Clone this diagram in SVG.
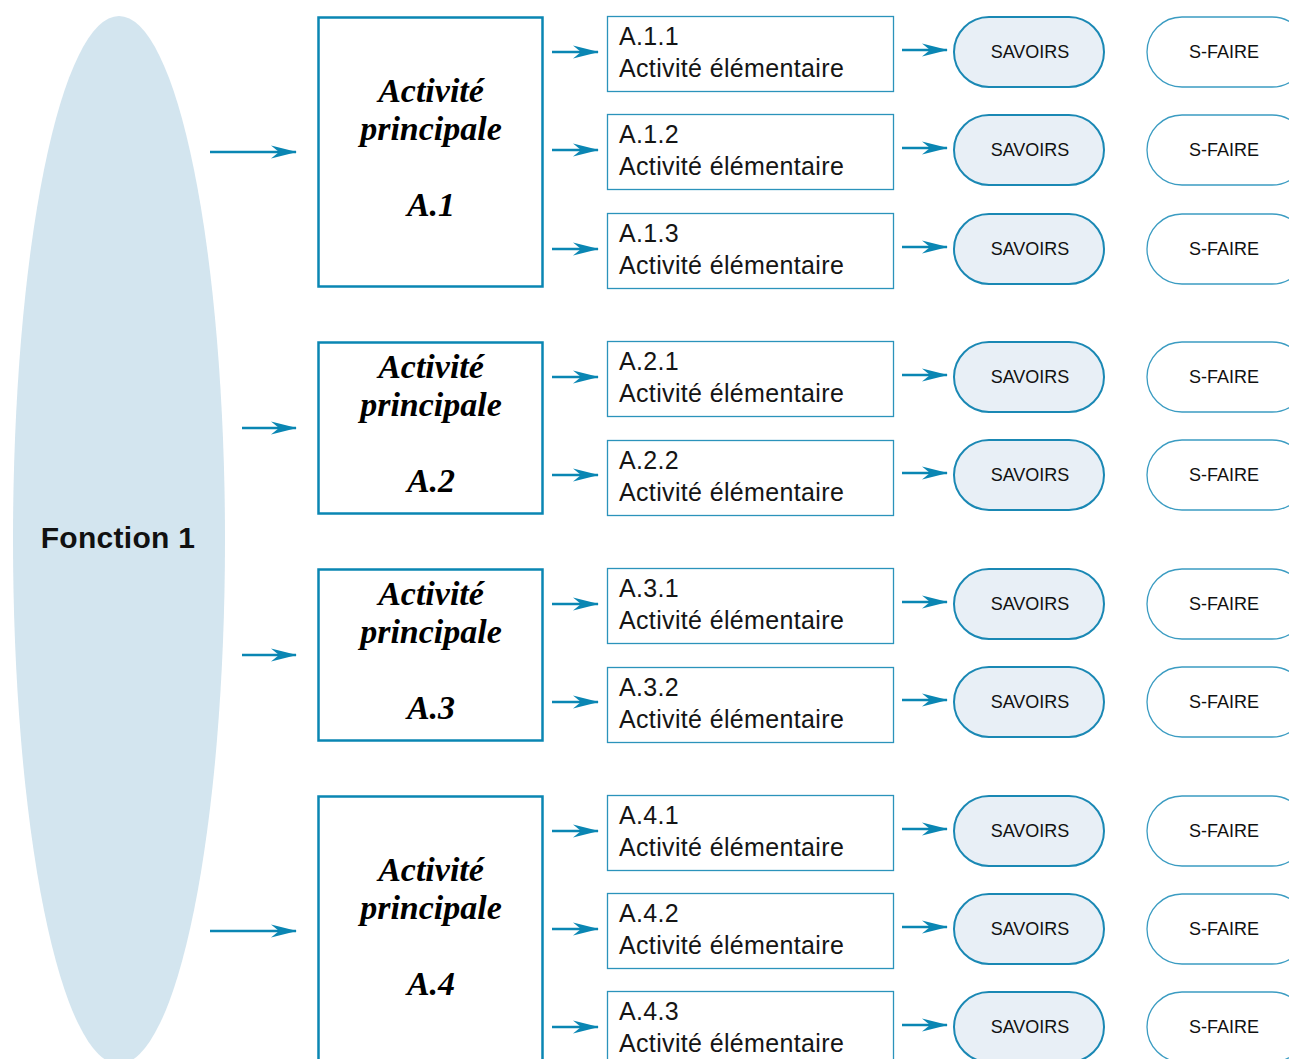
<svg xmlns="http://www.w3.org/2000/svg" width="1289" height="1059" viewBox="0 0 1289 1059">
<defs>
<style>
.pbox{fill:#fff;stroke:#0a86b3;stroke-width:2.5}
.ebox{fill:#fff;stroke:#2b93bb;stroke-width:1.3}
.sav{fill:#e8eff6;stroke:#1a88b4;stroke-width:2}
.sf{fill:#fff;stroke:#3b9cc2;stroke-width:1.3}
.pt{font-family:"Liberation Serif",serif;font-weight:bold;font-style:italic;font-size:34px;fill:#000;text-anchor:middle}
.et{font-family:"Liberation Sans",Arial,sans-serif;font-size:25px;letter-spacing:0.35px;fill:#151515}
.st{font-family:"Liberation Sans",Arial,sans-serif;font-size:18px;fill:#111;text-anchor:middle}
.ft{font-family:"Liberation Sans",Arial,sans-serif;font-weight:bold;font-size:30px;letter-spacing:0.3px;fill:#111;text-anchor:middle}
.arr{stroke:#0a86b3;stroke-width:2.5;fill:none;marker-end:url(#ah)}
</style>
<marker id="ah" viewBox="0 0 26 14" refX="25" refY="7" markerWidth="26" markerHeight="14" markerUnits="userSpaceOnUse" orient="auto">
<path d="M0,0.5 L26,7 L0,13.5 L8,7 z" fill="#0a86b3"/>
</marker>
</defs>

<g id="fonction1">
<ellipse cx="119" cy="540" rx="106" ry="524" fill="#d3e5ef"/>
<text class="ft" x="118" y="548">Fonction 1</text>
</g>

<g id="connectors">
<line class="arr" x1="210" y1="152" x2="296" y2="152"/>
<line class="arr" x1="242" y1="428" x2="296" y2="428"/>
<line class="arr" x1="242" y1="655" x2="296" y2="655"/>
<line class="arr" x1="210" y1="931" x2="296" y2="931"/>

<line class="arr" x1="552" y1="52" x2="598" y2="52"/>
<line class="arr" x1="552" y1="150" x2="598" y2="150"/>
<line class="arr" x1="552" y1="249" x2="598" y2="249"/>
<line class="arr" x1="552" y1="377" x2="598" y2="377"/>
<line class="arr" x1="552" y1="475" x2="598" y2="475"/>
<line class="arr" x1="552" y1="604" x2="598" y2="604"/>
<line class="arr" x1="552" y1="702" x2="598" y2="702"/>
<line class="arr" x1="552" y1="831" x2="598" y2="831"/>
<line class="arr" x1="552" y1="929" x2="598" y2="929"/>
<line class="arr" x1="552" y1="1027" x2="598" y2="1027"/>

<line class="arr" x1="902" y1="50" x2="947" y2="50"/>
<line class="arr" x1="902" y1="148" x2="947" y2="148"/>
<line class="arr" x1="902" y1="247" x2="947" y2="247"/>
<line class="arr" x1="902" y1="375" x2="947" y2="375"/>
<line class="arr" x1="902" y1="473" x2="947" y2="473"/>
<line class="arr" x1="902" y1="602" x2="947" y2="602"/>
<line class="arr" x1="902" y1="700" x2="947" y2="700"/>
<line class="arr" x1="902" y1="829" x2="947" y2="829"/>
<line class="arr" x1="902" y1="927" x2="947" y2="927"/>
<line class="arr" x1="902" y1="1025" x2="947" y2="1025"/>
</g>

<g id="A1">
<rect class="pbox" x="318.5" y="17.5" width="224" height="269"/>
<text class="pt" x="431" y="102">Activité</text>
<text class="pt" x="431" y="140">principale</text>
<text class="pt" x="431" y="216">A.1</text>
</g>
<g id="A2">
<rect class="pbox" x="318.5" y="342.5" width="224" height="171"/>
<text class="pt" x="431" y="378">Activité</text>
<text class="pt" x="431" y="416">principale</text>
<text class="pt" x="431" y="492">A.2</text>
</g>
<g id="A3">
<rect class="pbox" x="318.5" y="569.5" width="224" height="171"/>
<text class="pt" x="431" y="605">Activité</text>
<text class="pt" x="431" y="643">principale</text>
<text class="pt" x="431" y="719">A.3</text>
</g>
<g id="A4">
<rect class="pbox" x="318.5" y="796.5" width="224" height="280"/>
<text class="pt" x="431" y="881">Activité</text>
<text class="pt" x="431" y="919">principale</text>
<text class="pt" x="431" y="995">A.4</text>
</g>

<g id="A11"><rect class="ebox" x="607.5" y="16.5" width="286" height="75"/><text class="et" x="619" y="45">A.1.1</text><text class="et" x="619" y="77">Activité élémentaire</text></g>
<g id="A12"><rect class="ebox" x="607.5" y="114.5" width="286" height="75"/><text class="et" x="619" y="143">A.1.2</text><text class="et" x="619" y="175">Activité élémentaire</text></g>
<g id="A13"><rect class="ebox" x="607.5" y="213.5" width="286" height="75"/><text class="et" x="619" y="242">A.1.3</text><text class="et" x="619" y="274">Activité élémentaire</text></g>
<g id="A21"><rect class="ebox" x="607.5" y="341.5" width="286" height="75"/><text class="et" x="619" y="370">A.2.1</text><text class="et" x="619" y="402">Activité élémentaire</text></g>
<g id="A22"><rect class="ebox" x="607.5" y="440.5" width="286" height="75"/><text class="et" x="619" y="469">A.2.2</text><text class="et" x="619" y="501">Activité élémentaire</text></g>
<g id="A31"><rect class="ebox" x="607.5" y="568.5" width="286" height="75"/><text class="et" x="619" y="597">A.3.1</text><text class="et" x="619" y="629">Activité élémentaire</text></g>
<g id="A32"><rect class="ebox" x="607.5" y="667.5" width="286" height="75"/><text class="et" x="619" y="696">A.3.2</text><text class="et" x="619" y="728">Activité élémentaire</text></g>
<g id="A41"><rect class="ebox" x="607.5" y="795.5" width="286" height="75"/><text class="et" x="619" y="824">A.4.1</text><text class="et" x="619" y="856">Activité élémentaire</text></g>
<g id="A42"><rect class="ebox" x="607.5" y="893.5" width="286" height="75"/><text class="et" x="619" y="922">A.4.2</text><text class="et" x="619" y="954">Activité élémentaire</text></g>
<g id="A43"><rect class="ebox" x="607.5" y="991.5" width="286" height="75"/><text class="et" x="619" y="1020">A.4.3</text><text class="et" x="619" y="1052">Activité élémentaire</text></g>

<g id="S11"><rect class="sav" x="954" y="17" width="150" height="70" rx="35"/><text class="st" x="1030" y="58">SAVOIRS</text></g>
<g id="S12"><rect class="sav" x="954" y="115" width="150" height="70" rx="35"/><text class="st" x="1030" y="156">SAVOIRS</text></g>
<g id="S13"><rect class="sav" x="954" y="214" width="150" height="70" rx="35"/><text class="st" x="1030" y="255">SAVOIRS</text></g>
<g id="S21"><rect class="sav" x="954" y="342" width="150" height="70" rx="35"/><text class="st" x="1030" y="383">SAVOIRS</text></g>
<g id="S22"><rect class="sav" x="954" y="440" width="150" height="70" rx="35"/><text class="st" x="1030" y="481">SAVOIRS</text></g>
<g id="S31"><rect class="sav" x="954" y="569" width="150" height="70" rx="35"/><text class="st" x="1030" y="610">SAVOIRS</text></g>
<g id="S32"><rect class="sav" x="954" y="667" width="150" height="70" rx="35"/><text class="st" x="1030" y="708">SAVOIRS</text></g>
<g id="S41"><rect class="sav" x="954" y="796" width="150" height="70" rx="35"/><text class="st" x="1030" y="837">SAVOIRS</text></g>
<g id="S42"><rect class="sav" x="954" y="894" width="150" height="70" rx="35"/><text class="st" x="1030" y="935">SAVOIRS</text></g>
<g id="S43"><rect class="sav" x="954" y="992" width="150" height="70" rx="35"/><text class="st" x="1030" y="1033">SAVOIRS</text></g>

<g id="F11"><rect class="sf" x="1147" y="17" width="160" height="70" rx="35"/><text class="st" x="1224" y="58">S-FAIRE</text></g>
<g id="F12"><rect class="sf" x="1147" y="115" width="160" height="70" rx="35"/><text class="st" x="1224" y="156">S-FAIRE</text></g>
<g id="F13"><rect class="sf" x="1147" y="214" width="160" height="70" rx="35"/><text class="st" x="1224" y="255">S-FAIRE</text></g>
<g id="F21"><rect class="sf" x="1147" y="342" width="160" height="70" rx="35"/><text class="st" x="1224" y="383">S-FAIRE</text></g>
<g id="F22"><rect class="sf" x="1147" y="440" width="160" height="70" rx="35"/><text class="st" x="1224" y="481">S-FAIRE</text></g>
<g id="F31"><rect class="sf" x="1147" y="569" width="160" height="70" rx="35"/><text class="st" x="1224" y="610">S-FAIRE</text></g>
<g id="F32"><rect class="sf" x="1147" y="667" width="160" height="70" rx="35"/><text class="st" x="1224" y="708">S-FAIRE</text></g>
<g id="F41"><rect class="sf" x="1147" y="796" width="160" height="70" rx="35"/><text class="st" x="1224" y="837">S-FAIRE</text></g>
<g id="F42"><rect class="sf" x="1147" y="894" width="160" height="70" rx="35"/><text class="st" x="1224" y="935">S-FAIRE</text></g>
<g id="F43"><rect class="sf" x="1147" y="992" width="160" height="70" rx="35"/><text class="st" x="1224" y="1033">S-FAIRE</text></g>
</svg>
